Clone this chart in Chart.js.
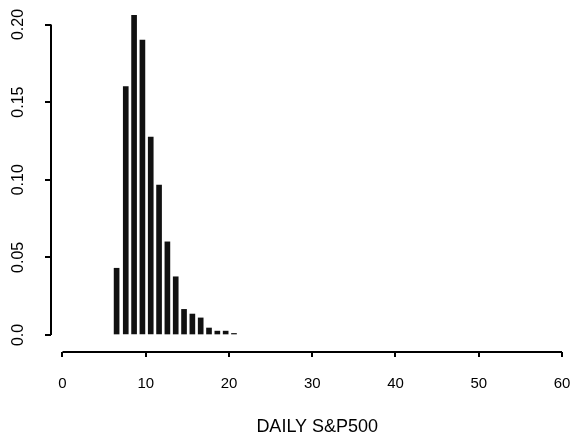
<!DOCTYPE html>
<html>
<head>
<meta charset="utf-8">
<script src="https://cdn.jsdelivr.net/npm/chart.js@4.4.0/dist/chart.umd.min.js"></script>
<style>
    html, body { margin: 0; padding: 0; background: #fff; }
    .chart-view { width: 575px; height: 444px; }
</style>
</head>
<body>
<div class="chart-view">
    <canvas id="hist"></canvas>
</div>
<script>
// frequency of daily S&P500 values
const binCentres = [6.5, 7.6, 8.6, 9.6, 10.6, 11.6, 12.6, 13.6, 14.6, 15.6, 16.6, 17.6, 18.6, 19.6, 20.6];
const frequencies = [0.043, 0.160, 0.206, 0.190, 0.1275, 0.0965, 0.060, 0.0375, 0.0165, 0.0135, 0.011, 0.0045, 0.0025, 0.0025, 0.001];
const xTicks = [0, 10, 20, 30, 40, 50, 60];
const yTicks = [0, 0.05, 0.10, 0.15, 0.20];
const yTickLabels = ["0.0", "0.05", "0.10", "0.15", "0.20"];
const xTitle = "DAILY S&P500";

const FONT = "'Liberation Sans', Arial, sans-serif";

// axis lines only span the tick range, y labels are turned sideways,
// and the axis title sits under the middle of the x axis
const axesPlugin = {
    id: "rAxes",
    afterDraw(chart) {
        const ctx = chart.ctx;
        const x = chart.scales.x;
        const y = chart.scales.y;
        const area = chart.chartArea;
        const x0 = x.getPixelForValue(xTicks[0]);
        const x1 = x.getPixelForValue(xTicks[xTicks.length - 1]);
        ctx.save();
        ctx.strokeStyle = "#000";
        ctx.lineWidth = 2;
        ctx.beginPath();
        ctx.moveTo(x0, area.bottom);
        ctx.lineTo(x1, area.bottom);
        ctx.moveTo(area.left, y.getPixelForValue(yTicks[0]));
        ctx.lineTo(area.left, y.getPixelForValue(yTicks[yTicks.length - 1]));
        ctx.stroke();

        ctx.fillStyle = "#000";
        ctx.font = "16px " + FONT;
        ctx.textAlign = "center";
        ctx.textBaseline = "middle";
        yTicks.forEach((v, i) => {
            ctx.save();
            ctx.translate(19, y.getPixelForValue(v));
            ctx.rotate(-Math.PI / 2);
            ctx.fillText(yTickLabels[i], 0, 0);
            ctx.restore();
        });

        ctx.font = "18px " + FONT;
        ctx.fillText(xTitle, (x0 + x1) / 2 + 5, 427);
        ctx.restore();
    }
};

new Chart(document.getElementById("hist"), {
    type: "bar",
    data: {
        datasets: [{
            data: binCentres.map((c, i) => ({ x: c, y: frequencies[i] })),
            backgroundColor: "#111",
            borderWidth: 0,
            barThickness: 5
        }]
    },
    options: {
        responsive: true,
        maintainAspectRatio: false,
        animation: false,
        devicePixelRatio: 1,
        layout: { padding: { top: 9, right: 13, bottom: 0, left: 0 } },
        plugins: {
            legend: { display: false },
            tooltip: { enabled: false }
        },
        scales: {
            x: {
                type: "linear",
                offset: false,
                min: -1.38,
                max: 60,
                afterBuildTicks: (scale) => { scale.ticks = xTicks.map(v => ({ value: v })); },
                afterFit: (scale) => {
                    scale.height = 92;
                    scale.paddingLeft = 0;
                    scale.paddingRight = 0;
                },
                border: { display: false },
                grid: {
                    offset: false,
                    drawOnChartArea: false,
                    drawTicks: true,
                    tickLength: 5,
                    lineWidth: 2,
                    color: "#000"
                },
                ticks: {
                    autoSkip: false,
                    maxRotation: 0,
                    padding: 18,
                    color: "#000",
                    font: { family: FONT, size: 15 },
                    callback: (v) => String(v)
                }
            },
            y: {
                min: -0.01095,
                max: 0.21,
                afterBuildTicks: (scale) => { scale.ticks = yTicks.map(v => ({ value: v })); },
                afterFit: (scale) => {
                    scale.width = 51;
                    scale.paddingTop = 0;
                    scale.paddingBottom = 0;
                },
                border: { display: false },
                grid: {
                    drawOnChartArea: false,
                    drawTicks: true,
                    tickLength: 6,
                    lineWidth: 2,
                    color: "#000"
                },
                ticks: { display: false }
            }
        }
    },
    plugins: [axesPlugin]
});
</script>
</body>
</html>
